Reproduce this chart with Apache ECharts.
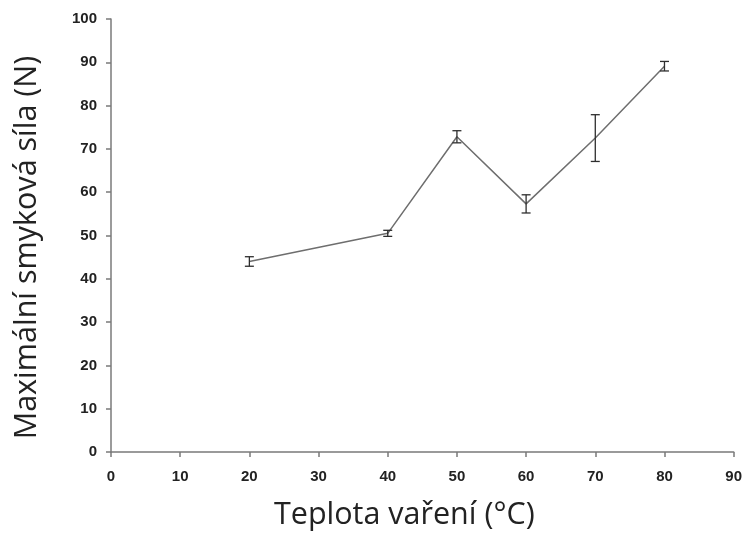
<!DOCTYPE html>
<html>
<head>
<meta charset="utf-8">
<script src="https://cdn.jsdelivr.net/npm/echarts@6/dist/echarts.min.js"></script>
<style>
  html, body { margin: 0; padding: 0; background: #fff; }
  #chart { width: 745px; height: 536px; }
</style>
</head>
<body>
<div id="chart"></div>
<script>
// Cooking temperature (°C) vs. maximum shear force (N), mean ± error
const temperatures = [20, 40, 50, 60, 70, 80];
const shearForce = [44.0, 50.5, 72.8, 57.3, 72.5, 89.1];
const errors = [1.1, 0.7, 1.4, 2.1, 5.4, 1.1];
const xTicks = { min: 0, max: 90, step: 10 };
const yTicks = { min: 0, max: 100, step: 10 };

const lineData = temperatures.map((t, i) => [t, shearForce[i]]);
const errData = temperatures.map((t, i) => [t, shearForce[i] - errors[i], shearForce[i] + errors[i]]);

const chart = echarts.init(document.getElementById('chart'), null, { renderer: 'canvas' });

const labelStyle = {
  color: '#222',
  fontFamily: 'Liberation Sans, Arial, sans-serif',
  fontWeight: 'bold',
  fontSize: 15
};
const axisLineStyle = { lineStyle: { color: '#7a7a7a', width: 1.5 } };

chart.setOption({
  backgroundColor: '#fff',
  animation: false,
  grid: { left: 111, right: 11, top: 19, bottom: 82 },
  xAxis: {
    type: 'value',
    min: xTicks.min, max: xTicks.max, interval: xTicks.step,
    name: 'Teplota vaření (°C)',
    nameLocation: 'middle',
    nameGap: 48,
    nameTextStyle: {
      fontFamily: 'Open Sans, Noto Sans, sans-serif',
      fontSize: 30.5, color: '#222',
      padding: [0, 36, 0, 0]
    },
    axisLine: axisLineStyle,
    axisTick: { show: true, inside: false, length: 5, lineStyle: { color: '#7a7a7a', width: 1.5 } },
    axisLabel: Object.assign({ margin: 17 }, labelStyle),
    splitLine: { show: false }
  },
  yAxis: {
    type: 'value',
    min: yTicks.min, max: yTicks.max, interval: yTicks.step,
    name: 'Maximální smyková síla (N)',
    nameLocation: 'middle',
    nameGap: 68,
    nameTextStyle: {
      fontFamily: 'Open Sans, Noto Sans, sans-serif',
      fontSize: 30.5, color: '#222',
      padding: [0, 24, 0, 0]
    },
    axisLine: axisLineStyle,
    axisTick: { show: true, inside: false, length: 5, lineStyle: { color: '#7a7a7a', width: 1.5 } },
    axisLabel: Object.assign({ margin: 14 }, labelStyle),
    splitLine: { show: false }
  },
  series: [
    {
      type: 'line',
      data: lineData,
      symbol: 'none',
      lineStyle: { color: '#6e6e6e', width: 1.5 },
      z: 2
    },
    {
      type: 'custom',
      data: errData,
      z: 3,
      renderItem: function (params, api) {
        const x = api.value(0);
        const lo = api.coord([x, api.value(1)]);
        const hi = api.coord([x, api.value(2)]);
        const cap = 4.5;
        const style = { stroke: '#2e2e2e', lineWidth: 1.3 };
        return {
          type: 'group',
          children: [
            { type: 'line', shape: { x1: lo[0], y1: lo[1], x2: hi[0], y2: hi[1] }, style: style },
            { type: 'line', shape: { x1: lo[0] - cap, y1: lo[1], x2: lo[0] + cap, y2: lo[1] }, style: style },
            { type: 'line', shape: { x1: hi[0] - cap, y1: hi[1], x2: hi[0] + cap, y2: hi[1] }, style: style }
          ]
        };
      }
    }
  ]
});
</script>
</body>
</html>
